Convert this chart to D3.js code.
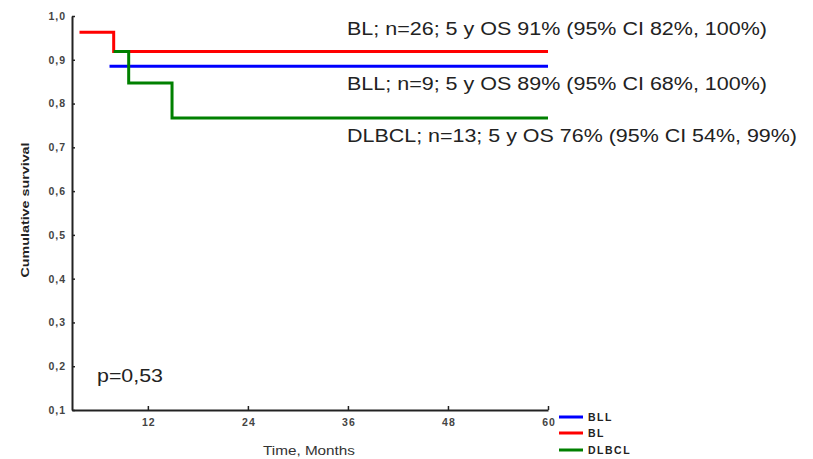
<!DOCTYPE html>
<html><head><meta charset="utf-8">
<script src="https://cdn.jsdelivr.net/npm/d3@7"></script>
<style>body{margin:0;background:#fff;} svg{display:block;}</style>
</head><body>
<script>
// Data
const seriesNames = ["BLL", "BL", "DLBCL"];
const seriesColors = ["#0000ff", "#ff0000", "#008000"];
const blTimes = [3.8, 7.9, 60];
const blSurv = [0.963, 0.919, 0.919];
const bllTimes = [7.4, 60];
const bllSurv = [0.885, 0.885];
const dlbclTimes = [7.9, 9.7, 14.9, 60];
const dlbclSurv = [0.919, 0.847, 0.767, 0.767];
const xTicks = [12, 24, 36, 48, 60];
const yTicks = [0.1, 0.2, 0.3, 0.4, 0.5, 0.6, 0.7, 0.8, 0.9, 1.0];
const annotations = [
  "BL; n=26; 5 y OS 91% (95% CI 82%, 100%)",
  "BLL; n=9; 5 y OS 89% (95% CI 68%, 100%)",
  "DLBCL; n=13; 5 y OS 76% (95% CI 54%, 99%)"
];
const pText = "p=0,53";

const W = 813, H = 459;
const svg = d3.select("body").append("svg").attr("width", W).attr("height", H)
  .style("font-family", "'Liberation Sans', Arial, sans-serif");

const x = d3.scaleLinear().domain([2.9, 60]).range([72, 548]);
const y = d3.scaleLinear().domain([0.1, 1.0]).range([410, 16]);

const fmt = d => d3.format(".1f")(d).replace(".", ",");

// Y axis
const ya = svg.append("g").attr("transform", "translate(72,0)")
  .call(d3.axisLeft(y).tickValues(yTicks).tickFormat(fmt).tickSizeInner(-3).tickSizeOuter(0).tickPadding(6));
ya.select(".domain").attr("stroke", "#222").attr("stroke-width", 2);
ya.selectAll(".tick line").attr("stroke", "#222").attr("stroke-width", 1.5);
ya.selectAll(".tick text").attr("font-size", 10.5).attr("font-weight", "bold")
  .attr("letter-spacing", 1).attr("fill", "#444");

// X axis
const xa = svg.append("g").attr("transform", "translate(0,410)")
  .call(d3.axisBottom(x).tickValues(xTicks).tickSizeInner(-4).tickSizeOuter(0).tickPadding(9));
xa.select(".domain").attr("stroke", "#222").attr("stroke-width", 2);
xa.selectAll(".tick line").attr("stroke", "#222").attr("stroke-width", 1.5);
xa.selectAll(".tick text").attr("font-size", 10.5).attr("font-weight", "bold")
  .attr("letter-spacing", 1).attr("dx", 0.5).attr("fill", "#444");

// Axis titles
svg.append("text").attr("transform", "translate(29,210) rotate(-90)")
  .attr("text-anchor", "middle").attr("font-size", 10).attr("font-weight", "bold").attr("fill", "#222")
  .attr("textLength", 135).attr("lengthAdjust", "spacingAndGlyphs")
  .text("Cumulative survival");
svg.append("text").attr("x", 309).attr("y", 455).attr("text-anchor", "middle")
  .attr("font-size", 12).attr("fill", "#333")
  .attr("textLength", 92).attr("lengthAdjust", "spacingAndGlyphs").text("Time, Months");

// Curves
const line = d3.line().x(d => x(d[0])).y(d => y(d[1])).curve(d3.curveStepAfter);
const seriesData = [
  d3.zip(bllTimes, bllSurv),
  d3.zip(blTimes, blSurv),
  d3.zip(dlbclTimes, dlbclSurv)
];
[0, 1, 2].forEach(i => {
  svg.append("path").datum(seriesData[i]).attr("d", line)
    .attr("fill", "none").attr("stroke", seriesColors[i]).attr("stroke-width", 3);
});

// Annotations
const annY = [35, 90, 142];
const annW = [420, 420, 450];
annotations.forEach((t, i) => {
  svg.append("text").attr("x", 347).attr("y", annY[i]).attr("font-size", 18)
    .attr("fill", "#222").attr("textLength", annW[i]).attr("lengthAdjust", "spacingAndGlyphs").text(t);
});

svg.append("text").attr("x", 97).attr("y", 382).attr("font-size", 19)
  .attr("fill", "#222").attr("textLength", 66).attr("lengthAdjust", "spacingAndGlyphs").text(pText);

// Legend
const legY = [417, 433, 450];
seriesNames.forEach((n, i) => {
  svg.append("line").attr("x1", 559).attr("x2", 583).attr("y1", legY[i]).attr("y2", legY[i])
    .attr("stroke", seriesColors[i]).attr("stroke-width", 3);
  svg.append("text").attr("x", 588).attr("y", legY[i] + 4).attr("font-size", 10.5).attr("font-weight", "bold")
    .attr("letter-spacing", 1.5).attr("fill", "#222").text(n);
});
</script>
</body></html>
